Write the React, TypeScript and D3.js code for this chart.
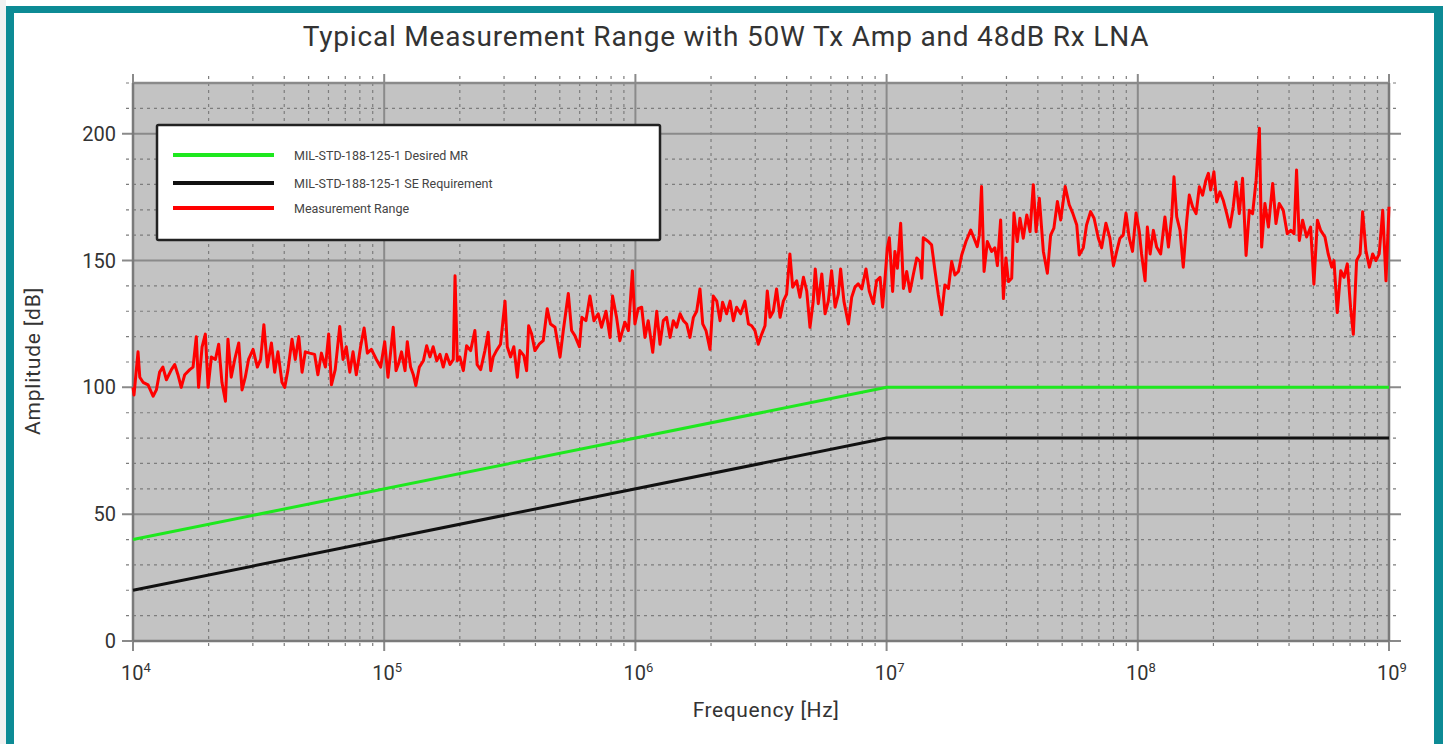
import React from "react";
import { scaleLog, scaleLinear, line, range } from "d3";

const measurementRange: [number, number][] = [
  [4.0, 100], [4.004, 97], [4.02, 114], [4.027, 104], [4.04, 102], [4.06, 101], [4.08, 96.5], [4.093, 99],
  [4.106, 106], [4.119, 108], [4.133, 103], [4.153, 107], [4.166, 109], [4.179, 105], [4.192, 100], [4.206, 105],
  [4.226, 107], [4.239, 108], [4.252, 120], [4.261, 100], [4.275, 116], [4.288, 121], [4.299, 100], [4.312, 112],
  [4.328, 111], [4.341, 117], [4.354, 102], [4.368, 94.5], [4.378, 119], [4.391, 104], [4.405, 111], [4.421, 117.5],
  [4.434, 99], [4.447, 104], [4.46, 111], [4.478, 115], [4.495, 108], [4.508, 111], [4.521, 124.7], [4.535, 108],
  [4.551, 117.5], [4.564, 106], [4.577, 114], [4.593, 102], [4.604, 100], [4.617, 107], [4.633, 119], [4.646, 111],
  [4.66, 120], [4.673, 106], [4.686, 114], [4.703, 113.5], [4.723, 113], [4.736, 105], [4.75, 113.5], [4.766, 108],
  [4.779, 121], [4.79, 101], [4.805, 107], [4.823, 124], [4.836, 111], [4.849, 116], [4.863, 106], [4.876, 114],
  [4.889, 105], [4.906, 116], [4.92, 123.4], [4.933, 113.5], [4.949, 115], [4.969, 111], [4.986, 108], [5.002, 118],
  [5.015, 104],
  [5.036, 123.7], [5.047, 106.6], [5.056, 109], [5.069, 114], [5.083, 106.6], [5.092, 118], [5.105, 108], [5.116, 105],
  [5.126, 100.7], [5.14, 108], [5.156, 110.5], [5.169, 116.4], [5.182, 112], [5.195, 116], [5.209, 110.5], [5.222, 113],
  [5.235, 108], [5.248, 113], [5.262, 109], [5.275, 111], [5.282, 144], [5.291, 110.5], [5.301, 112], [5.315, 106.6],
  [5.328, 116.4], [5.344, 114.5], [5.361, 122.4], [5.37, 109], [5.384, 107], [5.401, 114.5], [5.414, 121.7], [5.424, 106.6],
  [5.434, 112], [5.447, 114.5], [5.463, 117], [5.481, 134], [5.49, 116], [5.503, 112], [5.516, 116], [5.53, 104],
  [5.54, 114.5], [5.556, 112.5], [5.567, 106.6], [5.575, 124.3], [5.587, 121], [5.6, 114.5], [5.617, 117], [5.633, 118.4],
  [5.649, 131], [5.662, 125], [5.68, 123.7], [5.7, 112], [5.713, 122.4], [5.733, 137], [5.746, 122.4], [5.759, 120.4],
  [5.777, 116], [5.787, 127.6], [5.803, 126.3], [5.819, 136], [5.835, 126.3], [5.852, 129], [5.865, 123.7], [5.883, 130],
  [5.899, 119.7], [5.909, 136], [5.925, 127.6], [5.938, 118.4], [5.958, 125.7], [5.972, 122.4], [5.981, 135.5], [5.988, 146],
  [5.998, 125], [6.011, 131],
  [6.025, 131.6], [6.038, 119.7], [6.051, 126.3], [6.069, 113.8], [6.085, 130], [6.098, 117], [6.111, 126.3], [6.124, 127.6],
  [6.138, 119.7], [6.151, 126.3], [6.164, 123.7], [6.178, 129], [6.191, 126.3], [6.204, 125], [6.217, 119.7], [6.231, 127.6],
  [6.244, 130], [6.257, 138.8], [6.268, 125], [6.281, 122.4], [6.297, 115], [6.31, 136], [6.324, 134], [6.337, 126.3],
  [6.347, 133.6], [6.363, 129], [6.377, 134], [6.39, 126.3], [6.403, 131.6], [6.419, 129], [6.436, 134], [6.45, 125],
  [6.463, 124.3], [6.476, 122.4], [6.489, 117], [6.503, 121], [6.516, 124.3], [6.525, 138], [6.536, 127.6], [6.549, 130],
  [6.562, 138.8], [6.576, 127.6], [6.589, 134], [6.602, 136.8], [6.615, 152.6], [6.626, 139.5], [6.642, 142], [6.655, 135.5],
  [6.669, 143.4], [6.682, 138], [6.695, 123.7], [6.708, 134], [6.716, 146.7], [6.728, 133], [6.742, 144.7], [6.755, 129],
  [6.768, 134], [6.781, 146], [6.795, 131.6], [6.808, 136.8], [6.817, 146.7], [6.83, 134], [6.848, 125], [6.861, 135.5],
  [6.874, 139.5], [6.887, 140.8], [6.901, 138.8], [6.918, 146.7], [6.931, 138], [6.947, 133], [6.96, 142], [6.974, 143.4],
  [6.984, 131.6], [6.994, 143.4], [7.003, 155], [7.011, 159],
  [7.024, 137.8], [7.033, 153.6], [7.043, 147], [7.056, 164.7], [7.067, 139], [7.08, 145.7], [7.093, 137.8], [7.106, 144.3],
  [7.12, 151], [7.133, 149.6], [7.14, 143], [7.146, 159], [7.166, 157.5], [7.179, 156.2], [7.193, 145.7], [7.206, 136.4],
  [7.219, 128.6], [7.232, 140.4], [7.246, 139], [7.259, 149.6], [7.272, 144.3], [7.286, 145.7], [7.299, 152.2], [7.316, 157.5],
  [7.335, 162], [7.348, 158.8], [7.361, 155.5], [7.369, 160], [7.378, 179.2], [7.388, 145.7], [7.401, 157.5], [7.418, 153.6],
  [7.431, 155], [7.441, 148], [7.454, 166], [7.465, 135], [7.475, 151], [7.485, 141.7], [7.498, 143], [7.507, 168.7],
  [7.52, 157.5], [7.531, 166.7], [7.544, 158.8], [7.558, 168], [7.571, 161.4], [7.584, 179.9], [7.595, 161.4], [7.608, 174.6],
  [7.624, 153.6], [7.64, 145], [7.653, 160], [7.666, 162.8], [7.68, 173.3], [7.693, 166], [7.711, 179.2], [7.727, 172],
  [7.741, 168.7], [7.757, 164], [7.767, 152.2], [7.783, 155], [7.796, 164], [7.812, 169.3], [7.826, 166.7], [7.843, 158.8],
  [7.856, 155], [7.873, 164.7], [7.889, 158.8], [7.903, 148], [7.916, 153.6], [7.929, 158.8], [7.942, 160], [7.953, 168.7],
  [7.966, 158.8], [7.979, 153.6], [7.993, 168.7], [8.006, 161.4],
  [8.015, 152.6], [8.029, 142], [8.038, 163.2], [8.049, 152.6], [8.062, 161.9], [8.075, 155.3], [8.091, 152.6], [8.108, 167.2],
  [8.122, 155.3], [8.135, 167.2], [8.144, 183], [8.155, 167.2], [8.168, 161.9], [8.181, 147.4], [8.195, 165.9], [8.205, 175.8],
  [8.218, 171.2], [8.232, 168.5], [8.245, 179.1], [8.258, 175.8], [8.271, 181.7], [8.281, 184.4], [8.29, 177.8], [8.303, 185],
  [8.314, 173.1], [8.327, 177.1], [8.34, 173.8], [8.354, 168.5], [8.367, 163.2], [8.38, 171.2], [8.391, 181], [8.404, 168.5],
  [8.417, 182.4], [8.431, 152], [8.444, 169.8], [8.457, 168.5], [8.471, 181.7], [8.484, 202.2], [8.493, 155.3], [8.506, 172.5],
  [8.52, 163.2], [8.537, 180.4], [8.55, 164.6], [8.563, 172.5], [8.579, 169.8], [8.595, 160.6], [8.609, 161.9], [8.622, 160.6],
  [8.632, 185.7], [8.643, 157.9], [8.656, 165.9], [8.672, 159.3], [8.688, 163.2], [8.701, 140.7], [8.715, 165.9], [8.728, 161.9],
  [8.745, 159.3], [8.758, 152.6], [8.772, 147.4], [8.781, 150], [8.794, 129.5], [8.808, 146], [8.821, 143.4], [8.834, 148.7],
  [8.847, 131.5], [8.858, 120.9], [8.871, 150], [8.885, 152.6], [8.895, 169.2], [8.908, 154], [8.922, 147.4], [8.935, 152.6],
  [8.948, 150], [8.961, 152.6], [8.975, 169.8], [8.988, 142], [9.0, 171.2],
];

// limit lines [Hz, dB]
const desiredMR: [number, number][] = [[1e4, 40], [1e7, 100], [1e9, 100]];
const seRequirement: [number, number][] = [[1e4, 20], [1e7, 80], [1e9, 80]];

const yTicks = [0, 50, 100, 150, 200];
const decades = [4, 5, 6, 7, 8, 9];

const legendItems = [
  { label: "MIL-STD-188-125-1 Desired MR", color: "#1ee81e" },
  { label: "MIL-STD-188-125-1 SE Requirement", color: "#111111" },
  { label: "Measurement Range", color: "#ff0000" },
];

const W = 1444;
const H = 744;
const font = "Roboto, 'Noto Sans', sans-serif";

export default function App() {
  const x = scaleLog().domain([1e4, 1e9]).range([133, 1389]);
  const y = scaleLinear().domain([0, 220]).range([641, 83]);

  const path = line<[number, number]>()
    .x((d) => x(d[0]))
    .y((d) => y(d[1]));

  const measured = measurementRange.map(([e, v]) => [Math.pow(10, e), v] as [number, number]);

  const minorX: number[] = [];
  decades.slice(0, -1).forEach((d) => {
    for (let k = 2; k <= 9; k++) minorX.push(k * Math.pow(10, d));
  });
  const minorY = range(10, 221, 10).filter((v) => v % 50 !== 0);

  const [x0, x1] = x.range();
  const [yb, yt] = y.range();

  return (
    <svg
      width={W}
      height={H}
      style={{ position: "absolute", left: 0, top: 0, display: "block" }}
      fontFamily={font}
    >
      <rect x={0} y={0} width={W} height={H} fill="#ffffff" />
      <rect x={0} y={0} width={6} height={H} fill="#f1f1f1" />
      {/* teal frame */}
      <rect x={6} y={6} width={8} height={H - 6} fill="#0d8b95" />
      <rect x={6} y={6} width={1437} height={7} fill="#0d8b95" />
      <rect x={1434} y={6} width={9} height={H - 6} fill="#0d8b95" />

      <text x={726} y={46} textAnchor="middle" fontSize={28} letterSpacing={0.8} fill="#333">
        Typical Measurement Range with 50W Tx Amp and 48dB Rx LNA
      </text>

      {/* plot background */}
      <rect x={x0} y={yt} width={x1 - x0} height={yb - yt} fill="#c3c3c3" />

      {/* minor grid */}
      {minorY.map((v) => (
        <line key={"my" + v} x1={126} x2={1398} y1={y(v)} y2={y(v)}
          stroke="#7d7d7d" strokeWidth={1.2} strokeDasharray="3,4" />
      ))}
      {minorX.map((f) => (
        <line key={"mx" + f} x1={x(f)} x2={x(f)} y1={76} y2={650}
          stroke="#7d7d7d" strokeWidth={1.2} strokeDasharray="3,4" />
      ))}
      {/* major grid */}
      {yTicks.map((v) => (
        <line key={"y" + v} x1={122} x2={1401} y1={y(v)} y2={y(v)} stroke="#8a8a8a" strokeWidth={2} />
      ))}
      {decades.map((d) => (
        <line key={"x" + d} x1={x(Math.pow(10, d))} x2={x(Math.pow(10, d))} y1={74} y2={651}
          stroke="#8a8a8a" strokeWidth={2} />
      ))}
      <line x1={x0} x2={x1} y1={yt} y2={yt} stroke="#8a8a8a" strokeWidth={2.5} />
      <line x1={x0} x2={x1} y1={yb} y2={yb} stroke="#7a7a7a" strokeWidth={2.5} />
      <line x1={x0} x2={x0} y1={yt} y2={yb} stroke="#7a7a7a" strokeWidth={2.5} />
      <line x1={x1} x2={x1} y1={yt} y2={yb} stroke="#7a7a7a" strokeWidth={2.5} />

      {/* series */}
      <path d={path(measured) ?? ""} fill="none" stroke="#ff0000" strokeWidth={3} strokeLinejoin="round" />
      <path d={path(desiredMR) ?? ""} fill="none" stroke="#1ee81e" strokeWidth={3} />
      <path d={path(seRequirement) ?? ""} fill="none" stroke="#111" strokeWidth={3} />

      {/* y tick labels */}
      {yTicks.map((v) => (
        <text key={"yl" + v} x={116} y={y(v) + 7} textAnchor="end" fontSize={20} fill="#333">
          {v}
        </text>
      ))}
      {/* x tick labels */}
      {decades.map((d) => (
        <text key={"xl" + d} x={x(Math.pow(10, d)) + 3} y={680} textAnchor="middle" fontSize={20} fill="#333">
          10
          <tspan fontSize={13} dy={-8}>{d}</tspan>
        </text>
      ))}

      <text x={766} y={717} textAnchor="middle" fontSize={21} letterSpacing={0.6} fill="#333">
        Frequency [Hz]
      </text>
      <text transform="translate(40,361) rotate(-90)" textAnchor="middle" fontSize={21} letterSpacing={0.8} fill="#333">
        Amplitude [dB]
      </text>

      {/* legend */}
      <rect x={157} y={125} width={503} height={115} fill="#fff" stroke="#222" strokeWidth={2.5} rx={1.5} />
      {legendItems.map((item, i) => {
        const ly = [155, 183, 208][i];
        return (
          <g key={item.label}>
            <line x1={173} x2={274} y1={ly} y2={ly} stroke={item.color} strokeWidth={4} />
            <text x={294} y={ly + 5} fontSize={12.5} fill="#444">
              {item.label}
            </text>
          </g>
        );
      })}
    </svg>
  );
}
